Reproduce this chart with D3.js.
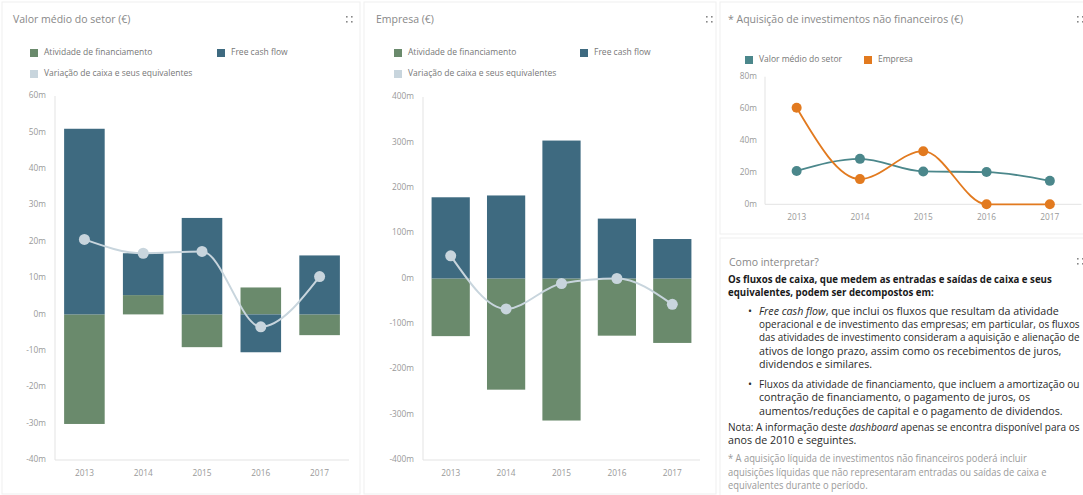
<!DOCTYPE html>
<html lang="pt">
<head>
  <meta charset="UTF-8">
  <title>Fluxos de caixa</title>
  <script src="https://d3js.org/d3.v7.min.js"></script>
  <style>
    body { margin: 0; background: #fff; }
    svg { display: block; font-family: "Open Sans", "Noto Sans", sans-serif; }
  </style>
</head>
<body>
  <div id="chart"></div>
  <script>
    // Data
    const years = ['2013', '2014', '2015', '2016', '2017'];

    const sectorFinancing = [-30.1, 5.3, -9.0, 7.4, -5.7];
    const sectorFcf = [51, 11.5, 26.5, -10.4, 16.2];
    const sectorVariation = [20.6, 16.8, 17.3, -3.4, 10.4];

    const firmFinancing = [-127, -245, -313, -126, -142];
    const firmFcf = [179, 183, 304, 132, 87];
    const firmVariation = [50, -67, -11, 0, -57];

    const investSector = [20.9, 28.5, 20.6, 20.2, 14.7];
    const investFirm = [60.5, 15.8, 33.3, 0, 0];

    const sectorTicks = [-40, -30, -20, -10, 0, 10, 20, 30, 40, 50, 60];
    const firmTicks = [-400, -300, -200, -100, 0, 100, 200, 300, 400];
    const investTicks = [0, 20, 40, 60, 80];

    const barLegend = ['Atividade de financiamento', 'Free cash flow', 'Variação de caixa e seus equivalentes'];
    const lineLegend = ['Valor médio do setor', 'Empresa'];

    const C = {
      fin: '#6a8a6c',
      fcf: '#3e6a80',
      vari: '#c8d5dd',
      sector: '#4b878b',
      firm: '#e27a1f',
      axis: '#e3e3e3',
      tick: '#999',
      title: '#888'
    };

    const svg = d3.select('#chart').append('svg')
      .attr('width', 1083)
      .attr('height', 495);

    // panels
    const panels = [
      { x: 2, y: 2, w: 358, h: 492 },
      { x: 364, y: 2, w: 352, h: 492 },
      { x: 720, y: 2, w: 366, h: 232 },
      { x: 720, y: 238, w: 366, h: 260 }
    ];
    panels.forEach(p => {
      svg.append('rect')
        .attr('x', p.x).attr('y', p.y).attr('width', p.w).attr('height', p.h)
        .attr('fill', '#fff').attr('stroke', '#efefef');
    });

    function expandIcon(x, y) {
      [[0, 0], [5, 0], [0, 5], [5, 5]].forEach(d => {
        svg.append('rect')
          .attr('x', x + d[0]).attr('y', y + d[1])
          .attr('width', 1.6).attr('height', 1.6)
          .attr('fill', '#888');
      });
    }

    function title(x, y, txt) {
      svg.append('text')
        .attr('x', x).attr('y', y)
        .attr('dominant-baseline', 'middle')
        .attr('font-size', 10.5)
        .attr('fill', C.title)
        .text(txt);
    }

    function legendItem(x, y, color, txt) {
      svg.append('rect')
        .attr('x', x).attr('y', y - 4).attr('width', 8).attr('height', 8)
        .attr('fill', color);
      svg.append('text')
        .attr('x', x + 14).attr('y', y)
        .attr('dominant-baseline', 'middle')
        .attr('font-size', 8.5)
        .attr('fill', '#777')
        .text(txt);
    }

    // stacked bar + spline panel
    function barPanel(opt) {
      const x = d3.scaleBand()
        .domain(years)
        .range([opt.x0, opt.x1])
        .paddingInner(0.31)
        .paddingOuter(0.155);
      const y = d3.scaleLinear()
        .domain(opt.domain)
        .range([opt.y1, opt.y0]);

      const g = svg.append('g');

      g.append('line')
        .attr('x1', opt.x0).attr('x2', opt.x0)
        .attr('y1', opt.y0).attr('y2', opt.y1)
        .attr('stroke', C.axis);
      g.append('line')
        .attr('x1', opt.x0).attr('x2', opt.x1)
        .attr('y1', opt.y1).attr('y2', opt.y1)
        .attr('stroke', C.axis);

      g.selectAll('.yt').data(opt.ticks).enter().append('text')
        .attr('x', opt.labelX)
        .attr('y', d => y(d))
        .attr('text-anchor', 'end')
        .attr('dominant-baseline', 'middle')
        .attr('font-size', 8.3)
        .attr('fill', C.tick)
        .text(d => d + 'm');

      g.selectAll('.xt').data(years).enter().append('text')
        .attr('x', d => x(d) + x.bandwidth() / 2)
        .attr('y', opt.y1 + 14)
        .attr('text-anchor', 'middle')
        .attr('dominant-baseline', 'middle')
        .attr('font-size', 8.3)
        .attr('fill', C.tick)
        .text(d => d);

      const rows = years.map((yr, i) => ({ year: yr, fin: opt.fin[i], fcf: opt.fcf[i] }));
      const stack = d3.stack().keys(['fin', 'fcf']).offset(d3.stackOffsetDiverging)(rows);
      const colors = { fin: C.fin, fcf: C.fcf };

      stack.forEach(layer => {
        g.selectAll('.b-' + layer.key).data(layer).enter().append('rect')
          .attr('x', d => x(d.data.year))
          .attr('width', x.bandwidth())
          .attr('y', d => y(Math.max(d[0], d[1])))
          .attr('height', d => Math.abs(y(d[0]) - y(d[1])))
          .attr('fill', colors[layer.key]);
      });

      const pts = years.map((yr, i) => [x(yr) + x.bandwidth() / 2, y(opt.vari[i])]);
      g.append('path')
        .attr('d', d3.line().curve(d3.curveMonotoneX)(pts))
        .attr('fill', 'none')
        .attr('stroke', C.vari)
        .attr('stroke-width', 2);
      g.selectAll('.m').data(pts).enter().append('circle')
        .attr('cx', d => d[0]).attr('cy', d => d[1])
        .attr('r', 5.5)
        .attr('fill', C.vari);
    }

    // left panel
    title(13, 20, 'Valor médio do setor (€)');
    expandIcon(346, 16);
    legendItem(30, 53, C.fin, barLegend[0]);
    legendItem(217, 53, C.fcf, barLegend[1]);
    legendItem(30, 74, C.vari, barLegend[2]);
    barPanel({
      x0: 55, x1: 349, y0: 96, y1: 460,
      domain: [-40, 60], ticks: sectorTicks, labelX: 46,
      fin: sectorFinancing, fcf: sectorFcf, vari: sectorVariation
    });

    // middle panel
    title(376, 20, 'Empresa (€)');
    expandIcon(706, 16);
    legendItem(394, 53, C.fin, barLegend[0]);
    legendItem(580, 53, C.fcf, barLegend[1]);
    legendItem(394, 74, C.vari, barLegend[2]);
    barPanel({
      x0: 423, x1: 700, y0: 97, y1: 460,
      domain: [-400, 400], ticks: firmTicks, labelX: 414,
      fin: firmFinancing, fcf: firmFcf, vari: firmVariation
    });

    // right top panel: lines
    title(728, 20, '* Aquisição de investimentos não financeiros (€)');
    expandIcon(1077, 16);
    legendItem(745, 60, C.sector, lineLegend[0]);
    legendItem(864, 60, C.firm, lineLegend[1]);
    (function () {
      const x0 = 765, x1 = 1081.5, y0 = 76.7, y1 = 204.3;
      const x = d3.scalePoint().domain(years).range([x0, x1]).padding(0.5);
      const y = d3.scaleLinear().domain([0, 80]).range([y1, y0]);
      const g = svg.append('g');
      g.append('line')
        .attr('x1', x0).attr('x2', x0).attr('y1', y0).attr('y2', y1)
        .attr('stroke', C.axis);
      g.append('line')
        .attr('x1', x0).attr('x2', x1).attr('y1', y1).attr('y2', y1)
        .attr('stroke', C.axis);
      g.selectAll('.yt').data(investTicks).enter().append('text')
        .attr('x', 757).attr('y', d => y(d))
        .attr('text-anchor', 'end').attr('dominant-baseline', 'middle')
        .attr('font-size', 8.3).attr('fill', C.tick)
        .text(d => d + 'm');
      g.selectAll('.xt').data(years).enter().append('text')
        .attr('x', d => x(d)).attr('y', y1 + 13)
        .attr('text-anchor', 'middle').attr('dominant-baseline', 'middle')
        .attr('font-size', 8.3).attr('fill', C.tick)
        .text(d => d);

      [[investSector, C.sector], [investFirm, C.firm]].forEach(([vals, col]) => {
        const pts = years.map((yr, i) => [x(yr), y(vals[i])]);
        g.append('path')
          .attr('d', d3.line().curve(d3.curveMonotoneX)(pts))
          .attr('fill', 'none').attr('stroke', col).attr('stroke-width', 1.8);
        g.selectAll(null).data(pts).enter().append('circle')
          .attr('cx', d => d[0]).attr('cy', d => d[1])
          .attr('r', 5).attr('fill', col);
      });
    })();

    // right bottom panel: text
    title(729, 263, 'Como interpretar?');
    expandIcon(1077, 258);

    // k: b = bold, n = normal, f = footnote; ref marks the line used to fit widths
    const textLines = [
      { x: 728, y: 279.5, k: 'b', ref: 324, parts: [['Os fluxos de caixa, que medem as entradas e saídas de caixa e seus']] },
      { x: 728, y: 293.3, k: 'b', parts: [['equivalentes, podem ser decompostos em:']] },
      { x: 748, y: 311.7, k: 'n', parts: [['•']] },
      { x: 759, y: 311.7, k: 'n', parts: [['Free cash flow', 1], [', que inclui os fluxos que resultam da atividade']] },
      { x: 759, y: 325, k: 'n', parts: [['operacional e de investimento das empresas; em particular, os fluxos']] },
      { x: 759, y: 338.3, k: 'n', parts: [['das atividades de investimento consideram a aquisição e alienação de']] },
      { x: 759, y: 351.7, k: 'n', parts: [['ativos de longo prazo, assim como os recebimentos de juros,']] },
      { x: 759, y: 365, k: 'n', parts: [['dividendos e similares.']] },
      { x: 748, y: 385, k: 'n', parts: [['•']] },
      { x: 759, y: 385, k: 'n', parts: [['Fluxos da atividade de financiamento, que incluem a amortização ou']] },
      { x: 759, y: 398.3, k: 'n', parts: [['contração de financiamento, o pagamento de juros, os']] },
      { x: 759, y: 411.7, k: 'n', ref: 304, parts: [['aumentos/reduções de capital e o pagamento de dividendos.']] },
      { x: 728, y: 427.7, k: 'n', parts: [['Nota: A informação deste '], ['dashboard', 1], [' apenas se encontra disponível para os']] },
      { x: 728, y: 441, k: 'n', parts: [['anos de 2010 e seguintes.']] },
      { x: 728, y: 459.3, k: 'f', parts: [['* A aquisição líquida de investimentos não financeiros poderá incluir']] },
      { x: 728, y: 472.7, k: 'f', ref: 319, parts: [['aquisições líquidas que não representaram entradas ou saídas de caixa e']] },
      { x: 728, y: 486, k: 'f', parts: [['equivalentes durante o período.']] }
    ];

    const nodes = textLines.map(l => {
      const t = svg.append('text')
        .attr('x', 0).attr('y', 0)
        .attr('transform', `translate(${l.x},${l.y})`)
        .attr('dominant-baseline', 'middle')
        .attr('font-size', 10.5)
        .attr('font-weight', l.k === 'b' ? 'bold' : 'normal')
        .attr('fill', l.k === 'b' ? '#1a1a1a' : (l.k === 'f' ? '#9a9a9a' : '#2a2a2a'));
      l.parts.forEach(p => {
        t.append('tspan')
          .attr('font-style', p[1] ? 'italic' : 'normal')
          .text(p[0]);
      });
      return { l, t, w: t.node().getComputedTextLength() };
    });

    // horizontal squeeze factor per text kind, from the reference lines
    const factor = {};
    nodes.filter(n => n.l.ref).forEach(n => { factor[n.l.k] = n.l.ref / n.w; });

    nodes.forEach(n => {
      let f = factor[n.l.k] || 1;
      f = Math.min(f, (1080 - n.l.x) / n.w);
      n.t.attr('transform', `translate(${n.l.x},${n.l.y}) scale(${f},1)`);
    });
  </script>
</body>
</html>
